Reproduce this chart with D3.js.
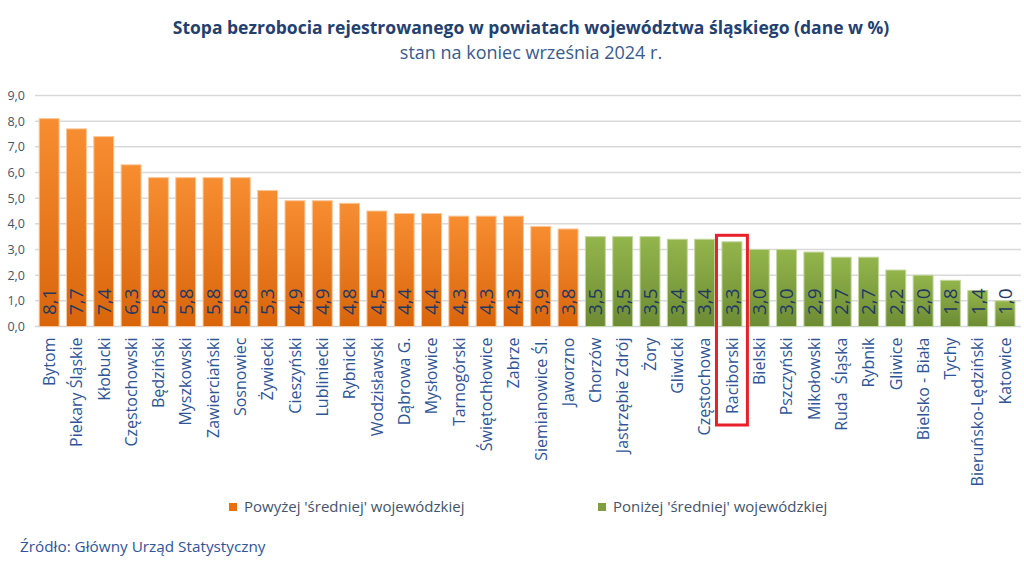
<!DOCTYPE html>
<html><head><meta charset="utf-8">
<script src="https://cdn.jsdelivr.net/npm/d3@7/dist/d3.min.js"></script>
<style>body{margin:0;background:#fff;} svg{display:block;font-family:'Open Sans',sans-serif;}</style>
</head><body><svg id="c" width="1024" height="562"></svg>
<script>
const categories = ["Bytom","Piekary Śląskie","Kłobucki","Częstochowski","Będziński","Myszkowski","Zawierciański","Sosnowiec","Żywiecki","Cieszyński","Lubliniecki","Rybnicki","Wodzisławski","Dąbrowa G.","Mysłowice","Tarnogórski","Świętochłowice","Zabrze","Siemianowice Śl.","Jaworzno","Chorzów","Jastrzębie Zdrój","Żory","Gliwicki","Częstochowa","Raciborski","Bielski","Pszczyński","Mikołowski","Ruda  Śląska","Rybnik","Gliwice","Bielsko - Biała","Tychy","Bieruńsko-Lędziński","Katowice"];
const values = [8.1,7.7,7.4,6.3,5.8,5.8,5.8,5.8,5.3,4.9,4.9,4.8,4.5,4.4,4.4,4.3,4.3,4.3,3.9,3.8,3.5,3.5,3.5,3.4,3.4,3.3,3.0,3.0,2.9,2.7,2.7,2.2,2.0,1.8,1.4,1.0];
const groups = ["A","A","A","A","A","A","A","A","A","A","A","A","A","A","A","A","A","A","A","A","B","B","B","B","B","B","B","B","B","B","B","B","B","B","B","B"];
const seriesKeys = ["A","B"];
const seriesNames = ["Powyżej 'średniej' wojewódzkiej","Poniżej 'średniej' wojewódzkiej"];
const yTicks = [0,1,2,3,4,5,6,7,8,9];
const highlighted = "Raciborski";
const title = "Stopa bezrobocia rejestrowanego w powiatach województwa śląskiego (dane w %)";
const subtitle = "stan na koniec września 2024 r.";
const source = "Źródło: Główny Urząd Statystyczny";

const svg = d3.select("#c");
const fmt = d => d.toFixed(1).replace(".", ",");

const defs = svg.append("defs");
const grads = {A:["#F78D31","#D9650B"], B:["#93B54B","#6C8B34"]};
Object.entries(grads).forEach(([k,[c1,c2]]) => {
  const g = defs.append("linearGradient").attr("id","g"+k).attr("x1",0).attr("y1",0).attr("x2",0).attr("y2",1);
  g.append("stop").attr("offset","0%").attr("stop-color",c1);
  g.append("stop").attr("offset","100%").attr("stop-color",c2);
});
const strokeCol = {A:"#F9C79A", B:"#C3D6A0"};
const legendCol = {A:"#E8700F", B:"#7E9F3E"};

const x = d3.scaleBand().domain(categories).range([35.5, 1018.7]).paddingInner(0.27).paddingOuter(0.135);
const y = d3.scaleLinear().domain([0, 9]).range([326.5, 95.5]);

// gridlines
svg.append("g").selectAll("line").data(yTicks.filter(d=>d>0)).join("line")
  .attr("x1", 35).attr("x2", 1021)
  .attr("y1", d => y(d)).attr("y2", d => y(d))
  .attr("stroke", "#D9D9D9").attr("stroke-width", 1.5);
svg.append("line").attr("x1",35).attr("x2",1021).attr("y1",y(0)).attr("y2",y(0))
  .attr("stroke","#CDD7E6").attr("stroke-width",1.5);

// y axis
const ya = svg.append("g").attr("transform","translate(35,0)")
  .call(d3.axisLeft(y).tickValues(yTicks).tickFormat(fmt).tickSize(0).tickPadding(10));
ya.select(".domain").remove();
ya.selectAll("text").attr("fill","#44546A").style("font-size","12.5px").style("font-family","'Open Sans',sans-serif");

// bars
const data = categories.map((c,i)=>({c, v:values[i], g:groups[i]}));
svg.append("g").selectAll("rect").data(data).join("rect")
  .attr("x", d => x(d.c)).attr("width", x.bandwidth())
  .attr("y", d => y(d.v)).attr("height", d => y(0) - y(d.v))
  .attr("fill", d => `url(#g${d.g})`)
  .attr("stroke", d => strokeCol[d.g]).attr("stroke-width", 1);

// value labels
svg.append("g").selectAll("text").data(data).join("text")
  .attr("transform", d => `translate(${x(d.c) + x.bandwidth()/2},315) rotate(-90)`)
  .attr("dy","0.36em").attr("text-anchor","start")
  .attr("fill","#1F3864").style("font-size","19px")
  .text(d => fmt(d.v));

// x axis labels
const xa = svg.append("g").attr("transform", `translate(0,${y(0)})`)
  .call(d3.axisBottom(x).tickSize(0).tickPadding(0));
xa.select(".domain").remove();
xa.selectAll("text")
  .attr("transform","translate(0,11) rotate(-90)")
  .attr("x",0).attr("y",0).attr("dy","0.36em").attr("text-anchor","end")
  .attr("fill","#2F5597").style("font-size","16px").style("font-family","'Open Sans',sans-serif")
  .style("white-space","pre");

// highlight box
const hv = values[categories.indexOf(highlighted)];
svg.append("rect")
  .attr("x", x(highlighted) - 5.5).attr("width", x.bandwidth() + 11)
  .attr("y", y(hv) - 6.5).attr("height", 425 - (y(hv) - 6.5))
  .attr("fill","none").attr("stroke","#E8202A").attr("stroke-width",3);

// title
svg.append("text").attr("x",531).attr("y",34).attr("text-anchor","middle")
  .attr("fill","#24406F").style("font-size","17.5px").style("font-weight","bold").text(title);
svg.append("text").attr("x",531).attr("y",59).attr("text-anchor","middle")
  .attr("fill","#3A5A8C").style("font-size","18px").text(subtitle);

// legend
const legX = [229, 598];
const leg = svg.append("g").selectAll("g").data(seriesKeys).join("g")
  .attr("transform",(d,i)=>`translate(${legX[i]},507)`);
leg.append("rect").attr("x",0).attr("y",-4).attr("width",8).attr("height",8).attr("fill",d=>legendCol[d]);
leg.append("text").attr("x",15).attr("dy","0.35em").attr("fill","#44546A").style("font-size","15px")
  .text((d,i)=>seriesNames[i]);

// source
svg.append("text").attr("x",20).attr("y",552).attr("fill","#2F5597").style("font-size","15.3px").text(source);
</script></body></html>
